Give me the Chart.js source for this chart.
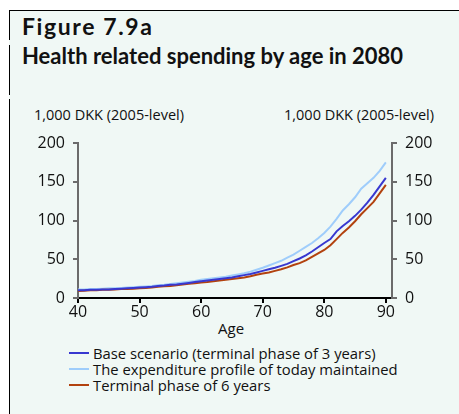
<!DOCTYPE html>
<html>
<head>
<meta charset="utf-8">
<script src="https://cdn.jsdelivr.net/npm/chart.js@4"></script>
<style>
  html, body { margin: 0; padding: 0; background: #fff; }
  body { width: 459px; height: 414px; position: relative; overflow: hidden; font-family: "Open Sans", sans-serif; color: #111; }
  .panel { position: absolute; left: 9px; top: 10px; right: 0; bottom: 0; background: #f0f8f5; border-top: 1px solid #000; }
  .vline { position: absolute; left: 9px; width: 1px; background: #000; }
  .fig { position: absolute; left: 22px; top: 12px; font: bold 23px Lato, sans-serif; letter-spacing: 1.6px; }
  .title { position: absolute; left: 22px; top: 42px; font: bold 22px Lato, sans-serif; }
  .unit { position: absolute; top: 105px; font-size: 14.5px; }
  .age { position: absolute; left: 218px; top: 318px; font-size: 15px; }
  #legend { position: absolute; left: 69px; top: 345px; font-size: 14.8px; line-height: 16px; }
  #legend div { display: flex; align-items: center; white-space: nowrap; }
  #legend span.sw { width: 20px; height: 2px; margin-right: 4px; }
  canvas { position: absolute; left: 0; top: 0; }
</style>
</head>
<body>
<div class="panel"></div>
<div class="vline" style="top:10px;height:30px"></div>
<div class="vline" style="top:45px;height:50px"></div>
<div class="vline" style="top:99px;height:315px"></div>
<div class="fig">Figure 7.9a</div>
<div class="title">Health related spending by age in 2080</div>
<div class="unit" style="left:34px">1,000 DKK (2005-level)</div>
<div class="unit" style="right:25px">1,000 DKK (2005-level)</div>
<div class="age">Age</div>
<div id="legend"></div>
<canvas id="chart" width="459" height="414"></canvas>
<script>
const ages = [40,41,42,43,44,45,46,47,48,49,50,51,52,53,54,55,56,57,58,59,60,61,62,63,64,65,66,67,68,69,70,71,72,73,74,75,76,77,78,79,80,81,82,83,84,85,86,87,88,89,90];

const baseScenario = [10,10,10.5,10.5,11,11,11.5,12,12.5,13,13.5,14,14.5,15.5,16,17,17.5,18.5,19.5,20.5,21.5,22.5,23.5,24.5,25.5,26.5,28,29.5,31,33,35,37,39,41.5,44,47.5,51,55,60,65.5,71,76,86,93,99,106,114,123,133,144,155];

const todayProfile = [11,11,11.5,11.5,12,12.5,12.5,13,13.5,14,14.5,15,15.5,16.5,17,18,19,20,21,22,23.5,24.5,25.5,26.5,27.5,29,30.5,32,34,36.5,39,42,45,48,52,56,61,66,71,77,84,92,102,113,121,130,141,148,155,164,175];

const terminal6 = [9,9.5,10,10,10.5,10.5,11,11.5,11.5,12,12.5,13,13.5,14.5,15,15.5,16.5,17.5,18.5,19,20,20.5,21.5,22.5,23.5,24.5,25.5,26.5,28,30,31.5,33,35,37,39.5,42.5,45,48.5,53,57.5,62,68,76,84,91,99,108,116,124,135,146];

const seriesNames = [
  "Base scenario (terminal phase of 3 years)",
  "The expenditure profile of today maintained",
  "Terminal phase of 6 years"
];
const seriesColors = ["#3838d0", "#9fcdfb", "#b2420f"];

const xTicks = [40, 50, 60, 70, 80, 90];
const yTicks = [0, 50, 100, 150, 200];

const toPoints = (vals) => vals.map((v, i) => ({ x: ages[i], y: v }));
const allSeries = [baseScenario, todayProfile, terminal6];

const datasets = allSeries.map((vals, i) => ({
  label: seriesNames[i],
  data: toPoints(vals),
  borderColor: seriesColors[i],
  borderWidth: 2,
  pointRadius: 0,
  tension: 0,
  yAxisID: "y",
  order: i === 1 ? 3 : i
}));

const legend = document.getElementById("legend");
seriesNames.forEach((name, i) => {
  const row = document.createElement("div");
  row.innerHTML = `<span class="sw" style="background:${seriesColors[i]}"></span>${name}`;
  legend.appendChild(row);
});

const tickFont = { family: "Open Sans", size: 16 };
const yAxis = (position, width) => ({
  type: "linear",
  position,
  min: 0,
  max: 200,
  afterBuildTicks(scale) { scale.ticks = yTicks.map((v) => ({ value: v })); },
  afterFit(scale) { scale.width = width; },
  grid: { drawOnChartArea: false, drawTicks: true, tickLength: 5, color: "#6b6b6b", lineWidth: 2 },
  border: { display: true, color: "#6b6b6b", width: 2 },
  ticks: { color: "#111", font: tickFont, padding: 8 }
});

new Chart(document.getElementById("chart"), {
  type: "line",
  data: { datasets },
  options: {
    responsive: false,
    animation: false,
    layout: { padding: { top: 143, bottom: 94, left: 0, right: 0 } },
    plugins: { legend: { display: false }, tooltip: { enabled: false } },
    scales: {
      x: {
        type: "linear",
        min: 40,
        max: 91,
        afterBuildTicks(scale) { scale.ticks = xTicks.map((v) => ({ value: v })); },
        afterFit(scale) { scale.height = 22; },
        grid: { drawOnChartArea: false, drawTicks: true, tickLength: 5, color: "#000", lineWidth: 2 },
        border: { display: true, color: "#000", width: 2 },
        ticks: { color: "#111", font: tickFont, padding: 0, maxRotation: 0 }
      },
      y: yAxis("left", 78),
      y2: yAxis("right", 67)
    }
  }
});
</script>
</body>
</html>
